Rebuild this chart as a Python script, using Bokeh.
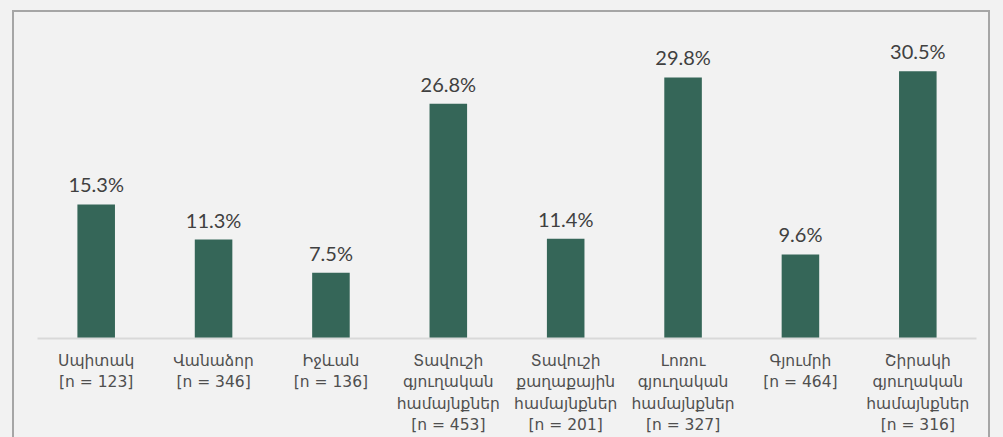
from bokeh.plotting import figure
from bokeh.models import ColumnDataSource, FactorRange, Range1d
from bokeh.core.properties import value
from bokeh.embed import file_html
from bokeh.resources import INLINE

regions = ["Սպիտակ", "Վանաձոր", "Իջևան", "Տավուշի\nգյուղական\nհամայնքներ",
           "Տավուշի\nքաղաքային\nհամայնքներ", "Լոռու\nգյուղական\nհամայնքներ",
           "Գյումրի", "Շիրակի\nգյուղական\nհամայնքներ"]
sizes = [123, 346, 136, 453, 201, 327, 464, 316]
shares = [15.3, 11.3, 7.5, 26.8, 11.4, 29.8, 9.6, 30.5]

cats = [f"{r}\n[n = {n}]" for r, n in zip(regions, sizes)]
labels = [f"{v:.1f}%" for v in shares]

src = ColumnDataSource(dict(x=cats, y=shares, t=labels))

BG = "#f2f2f2"
p = figure(x_range=FactorRange(*cats), y_range=Range1d(0, 36.3),
           width=978, height=440, output_backend="svg", toolbar_location=None,
           min_border_left=23, min_border_right=16, min_border_top=8, min_border_bottom=114)
p.margin = (10, 0, 0, 12)
p.styles = {"border-top": "2px solid #a6a6a6", "border-left": "2px solid #a6a6a6",
            "border-right": "2px solid #a6a6a6"}
p.background_fill_color = BG
p.border_fill_color = BG
p.outline_line_color = None
p.grid.visible = False

p.vbar(x="x", top="y", width=0.32, source=src, fill_color="#356658", line_color=None)
p.text(x="x", y="y", text="t", source=src, text_align="center", text_baseline="bottom",
       y_offset=-8, text_font=value("Lato"), text_font_size="20px", text_color="#404040")

p.yaxis.visible = False
ax = p.xaxis[0]
ax.axis_line_color = "#d9d9d9"
ax.axis_line_width = 2
ax.major_tick_line_color = None
ax.minor_tick_line_color = None
ax.major_label_standoff = 7
ax.major_label_text_font = "DejaVu Sans"
ax.major_label_text_font_style = "normal"
ax.major_label_text_font_size = "15.5px"
ax.major_label_text_color = "#4f4f4f"
ax.major_label_orientation = "horizontal"

html = file_html(p, INLINE)
html = html.replace("</head>", "<style>html, body { background-color: #f2f2f2; overflow: hidden; }</style></head>")
open("out.html", "w").write(html)
